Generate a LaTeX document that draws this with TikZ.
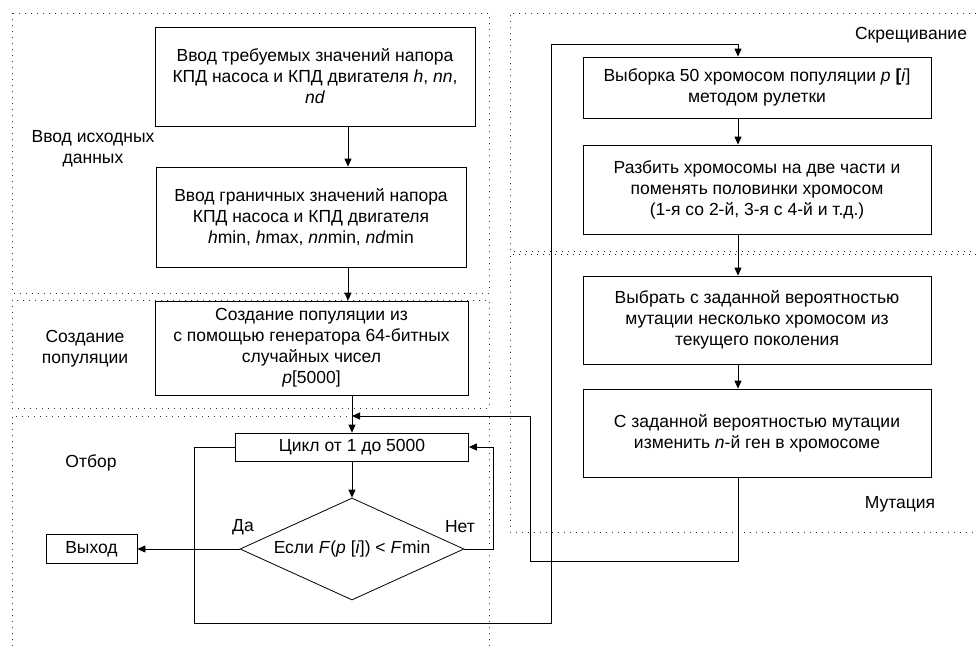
\documentclass[tikz,border=0pt]{standalone}
\usepackage{fontspec}
\setmainfont{Liberation Sans}
\usetikzlibrary{arrows.meta,shapes.geometric}
\newcommand{\fs}{\fontsize{17.5}{21}\selectfont}
\begin{document}
\begin{tikzpicture}[x=1pt,y=-1pt,
  box/.style={draw=black,line width=0.8pt,rectangle,inner sep=0pt,align=center,font=\fs},
  lbl/.style={align=center,font=\fs,inner sep=0pt},
  arr/.style={draw=black,line width=0.8pt,-{Triangle[length=8pt,width=7pt]}},
  dots/.style={draw=black!80,line width=1pt,dash pattern=on 1pt off 5pt}]
\useasboundingbox (0,0) rectangle (976,648);
% dotted regions
\draw[dots] (12,13) rectangle (489,293);
\draw[dots] (12,300) rectangle (489,408);
\draw[dots] (12,646) -- (12,416) -- (489,416) -- (489,646);
\draw[dots] (976,13) -- (510,13) -- (510,251) -- (976,251);
\draw[dots] (976,254) -- (510,254) -- (510,532) -- (976,532);
% region labels
\node[lbl] (lab1) at (93,149) {Ввод исходных\\данных};
\node[lbl] (lab2) at (85,349) {Создание\\популяции};
\node[lbl] (lab3) at (91,463) {Отбор};
\node[lbl] (lab4) at (911,35) {Скрещивание};
\node[lbl] (lab5) at (900,504) {Мутация};
% left column
\node[box,minimum width=320pt,minimum height=99pt] (b1) at (315,76.5)
  {Ввод требуемых значений напора\\КПД насоса и КПД двигателя \textit{h}, \textit{nn},\\\textit{nd}};
\node[box,minimum width=310pt,minimum height=100pt] (b2) at (311,217)
  {Ввод граничных значений напора\\КПД насоса и КПД двигателя\\\textit{h}min, \textit{h}max, \textit{nn}min, \textit{nd}min};
\node[box,minimum width=313pt,minimum height=94pt] (b3) at (311.5,348)
  {Создание популяции из\\с помощью генератора 64-битных\\случайных чисел\\\textit{p}[5000]};
\node[box,minimum width=233pt,minimum height=28pt] (cyc) at (352,447) {Цикл от 1 до 5000};
\node[draw=black,line width=0.8pt,diamond,aspect=2.2,inner sep=0pt,minimum width=224pt,minimum height=102pt,font=\fs] (dia) at (352,549)
  {Если \textit{F}(\textit{p} [\textit{i}]) < \textit{F}min};
\node[box,minimum width=91pt,minimum height=29pt] (exit) at (91.5,549) {Выход};
\node[lbl] (da) at (243,527) {Да};
\node[lbl] (net) at (460,527) {Нет};
% right column
\node[box,minimum width=348pt,minimum height=61pt] (s1) at (757,87.5)
  {Выборка 50 хромосом популяции \textit{p} \textbf{[}\textit{i}]\\методом рулетки};
\node[box,minimum width=348pt,minimum height=89pt] (s2) at (757,189.5)
  {Разбить хромосомы на две части и\\поменять половинки хромосом\\(1-я со 2-й, 3-я с 4-й и т.д.)};
\node[box,minimum width=348pt,minimum height=88pt] (s3) at (757,320)
  {Выбрать с заданной вероятностью\\мутации несколько хромосом из\\текущего поколения};
\node[box,minimum width=348pt,minimum height=88pt] (s4) at (757,433)
  {С заданной вероятностью мутации\\изменить \textit{n}-й ген в хромосоме};
% helper coordinates
\coordinate (ax) at (738,0);
\coordinate (lx) at (348,0);
\coordinate (nr) at (493,0);
\coordinate (lpL) at (194,623);
\coordinate (lpR) at (551,44);
\coordinate (fbB) at (530,561);
\coordinate (j) at (352,416);
% connectors
\draw[arr] (b1.south -| lx) -- (b2.north -| lx);
\draw[arr] (b2.south -| lx) -- (b3.north -| lx);
\draw[arr] (b3.south -| cyc.north) -- (cyc.north);
\draw[arr] (cyc.south) -- (dia.north);
\draw[arr] (dia.west) -- (exit.east);
\draw[arr] (dia.east) -- (dia.east -| nr) |- (cyc.east);
\draw[arr] (cyc.west) -| (lpL) -| (lpR) -| (s1.north -| ax);
\draw[arr] (s1.south -| ax) -- (s2.north -| ax);
\draw[arr] (s2.south -| ax) -- (s3.north -| ax);
\draw[arr] (s3.south -| ax) -- (s4.north -| ax);
\draw[arr] (s4.south -| ax) |- (fbB) |- (j);
\end{tikzpicture}
\end{document}
